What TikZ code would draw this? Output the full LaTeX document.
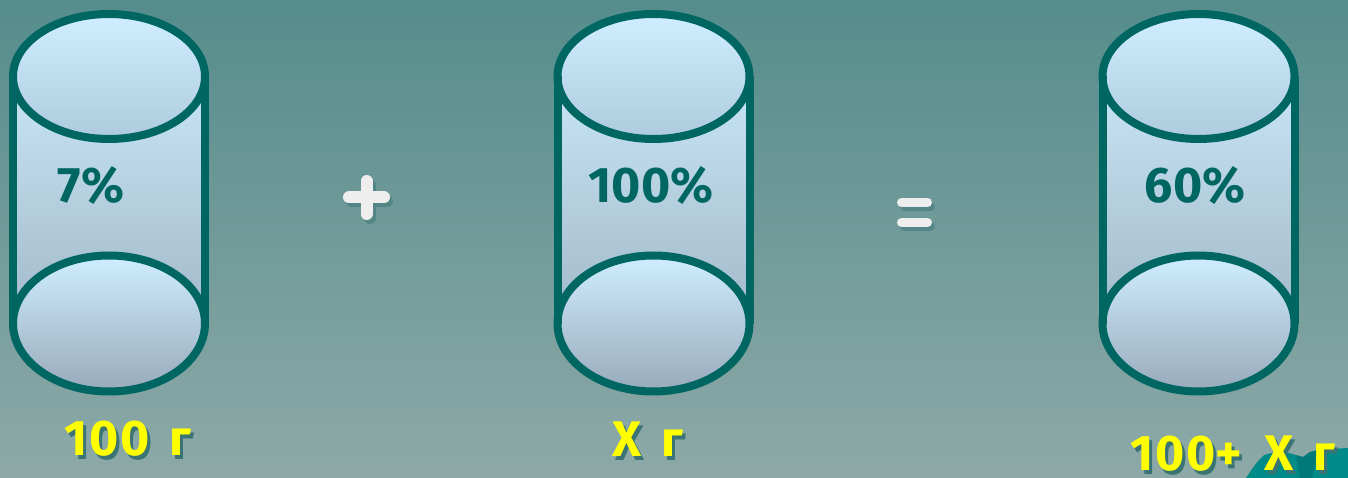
\documentclass[tikz,border=0pt]{standalone}
\usepackage{fontspec}
\setmainfont{Fira Sans}
\definecolor{bgtop}{HTML}{558D8C}
\definecolor{bgbot}{HTML}{8DA9A7}
\definecolor{rim}{HTML}{006662}
\definecolor{bodytop}{HTML}{C8E6F6}
\definecolor{bodybot}{HTML}{A2B9C8}
\definecolor{captop}{HTML}{CFEEFF}
\definecolor{capbot}{HTML}{AECBDD}
\definecolor{lowbot}{HTML}{98AABB}
\definecolor{pcttext}{HTML}{006662}
\definecolor{labyellow}{HTML}{FFFF00}
\definecolor{shadowcol}{HTML}{3B7474}
\definecolor{wave}{HTML}{008A88}
\definecolor{wavedark}{HTML}{007070}
\definecolor{signwhite}{HTML}{EEEEEE}
\newcommand\shadowtext[1]{\rlap{\hspace{3pt}\raisebox{-4pt}{\textcolor{shadowcol}{#1}}}#1}
\begin{document}
\begin{tikzpicture}[x=1pt,y=-1pt,
  rimline/.style={draw=rim,line width=8pt},
  pct/.style={font=\fontsize{50}{50}\selectfont\bfseries,text=pcttext,inner sep=0pt,anchor=center},
  lbl/.style={font=\fontsize{50}{50}\selectfont\bfseries,text=labyellow,inner sep=0pt,anchor=west},
  signbar/.style={line width=12pt,line cap=round,signwhite},
  signshadow/.style={line width=12pt,line cap=round,shadowcol,opacity=0.5},
  eqbar/.style={line width=9pt,line cap=round,signwhite},
  eqshadow/.style={line width=9pt,line cap=round,shadowcol,opacity=0.5},
  jar/.pic={
    \shade[top color=bodytop,bottom color=bodybot] (-96,76) rectangle (96,323);
    \shadedraw[top color=captop,bottom color=capbot,rimline] (0,76.5) ellipse [x radius=96,y radius=62.5];
    \shadedraw[top color=captop,bottom color=lowbot,rimline] (0,323.5) ellipse [x radius=96,y radius=68];
    \draw[rimline] (-96,76) -- (-96,323.5) (96,76) -- (96,323.5);
  }]
\shade[top color=bgtop,bottom color=bgbot] (0,0) rectangle (1348,478);
\useasboundingbox (0,0) rectangle (1348,478);

% cylinders
\pic (c1) at (109,0) {jar};
\pic (c2) at (653.5,0) {jar};
\pic (c3) at (1198.5,0) {jar};

% percentages
\node[pct] (p1) at (91,186) {7\%};
\node[pct] (p2) at (651,186) {100\%};
\node[pct] (p3) at (1195,186) {60\%};

% plus sign
\coordinate (plusl) at (349,197.5);
\coordinate (plusr) at (384,197.5);
\coordinate (plust) at (366.5,181);
\coordinate (plusb) at (366.5,214);
\draw[signshadow] ([shift={(3,4)}]plusl) -- ([shift={(3,4)}]plusr) ([shift={(3,4)}]plust) -- ([shift={(3,4)}]plusb);
\draw[signbar] (plusl) -- (plusr) (plust) -- (plusb);

% equals sign
\coordinate (eq1l) at (901.5,202.5);
\coordinate (eq1r) at (927.5,202.5);
\coordinate (eq2l) at (901.5,222.5);
\coordinate (eq2r) at (927.5,222.5);
\draw[eqshadow] ([shift={(3,4)}]eq1l) -- ([shift={(3,4)}]eq1r) ([shift={(3,4)}]eq2l) -- ([shift={(3,4)}]eq2r);
\draw[eqbar] (eq1l) -- (eq1r) (eq2l) -- (eq2r);

% teal wave at bottom right
\fill[wave] (1246,478) -- (1252,469) -- (1258,461) -- (1264,455) -- (1272,453) -- (1285,452)
  -- (1296,455) -- (1303,457) -- (1310,452) -- (1318,450) -- (1330,449) -- (1348,448) -- (1348,478) -- cycle;
\fill[wavedark, opacity=0.6] (1296,455) -- (1303,457) -- (1310,452) -- (1318,450) -- (1312,478) -- (1300,478) -- cycle;

% labels
\node[lbl] (l1) at (64,441) {\shadowtext{1\kern2pt0\kern2pt0}\hspace{20pt}\shadowtext{г}};
\node[lbl] (l2) at (612,441) {\shadowtext{Х}\hspace{20pt}\shadowtext{г}};
\node[lbl] (l3) at (1130,456) {\shadowtext{1\kern2pt0\kern2pt0+}\hspace{22pt}\shadowtext{Х}\hspace{20pt}\shadowtext{г}};
\end{tikzpicture}
\end{document}
